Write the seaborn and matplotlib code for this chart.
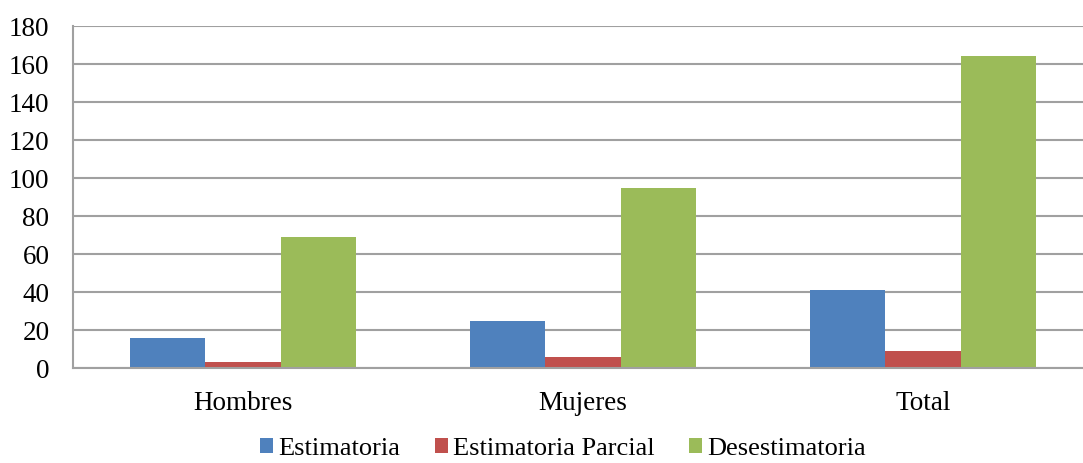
import matplotlib
matplotlib.use("Agg")
import matplotlib.pyplot as plt
from matplotlib.ticker import FixedLocator
import seaborn as sns
import pandas as pd

categories = ["Hombres", "Mujeres", "Total"]
series_names = ["Estimatoria", "Estimatoria Parcial", "Desestimatoria"]
estimatoria = [16, 25, 41]
estimatoria_parcial = [3, 6, 9]
desestimatoria = [69, 95, 164]
y_ticks = [0, 20, 40, 60, 80, 100, 120, 140, 160, 180]

colors = ["#4F81BD", "#C0504D", "#9BBB59"]

rows = []
for name, vals in zip(series_names, [estimatoria, estimatoria_parcial, desestimatoria]):
    for cat, v in zip(categories, vals):
        rows.append({"categoria": cat, "serie": name, "valor": v})
df = pd.DataFrame(rows)

sns.set_style("white")
plt.rcParams["font.family"] = ["Liberation Serif", "DejaVu Serif"]
plt.rcParams["text.color"] = "black"

W, H = 1083, 463
fig = plt.figure(figsize=(W / 100, H / 100), dpi=100)
# plot area runs slightly past the right edge of the canvas
ax = fig.add_axes([73 / W, 1 - 368 / H, 1020 / W, (368 - 26) / H])

sns.barplot(data=df, x="categoria", y="valor", hue="serie", hue_order=series_names,
            order=categories, palette=colors, width=0.667, gap=0, saturation=1,
            linewidth=0, ax=ax, legend=True)

grid_c = "#A0A0A0"
ax.set_ylim(0, 180)
ax.set_xlim(-0.5, 2.5)
ax.set_yticks(y_ticks)
ax.yaxis.grid(True, color=grid_c, linewidth=1.5)
ax.set_axisbelow(True)
ax.set_xlabel("")
ax.set_ylabel("")

for s in ["top", "right"]:
    ax.spines[s].set_visible(False)
for s in ["left", "bottom"]:
    ax.spines[s].set_color(grid_c)
    ax.spines[s].set_linewidth(1.5)

fs = 19.5
ax.tick_params(axis="y", which="major", length=6, width=1.5, color=grid_c,
               labelsize=fs, pad=11, labelcolor="black")
ax.tick_params(axis="x", which="major", length=0, labelsize=fs, pad=16.5, labelcolor="black")
ax.xaxis.set_minor_locator(FixedLocator([-0.5, 0.5, 1.5, 2.5]))
ax.tick_params(axis="x", which="minor", length=6, width=1.5, color=grid_c)

handles, labels = ax.get_legend_handles_labels()
ax.get_legend().remove()
fig.legend(handles, labels, loc="center", bbox_to_anchor=(563 / W, 1 - 449 / H),
           ncol=3, frameon=False, fontsize=19, handlelength=0.5, handleheight=0.5,
           handletextpad=0.2, columnspacing=1.3, borderpad=0, labelcolor="black")

fig.savefig("out.png", dpi=100)
